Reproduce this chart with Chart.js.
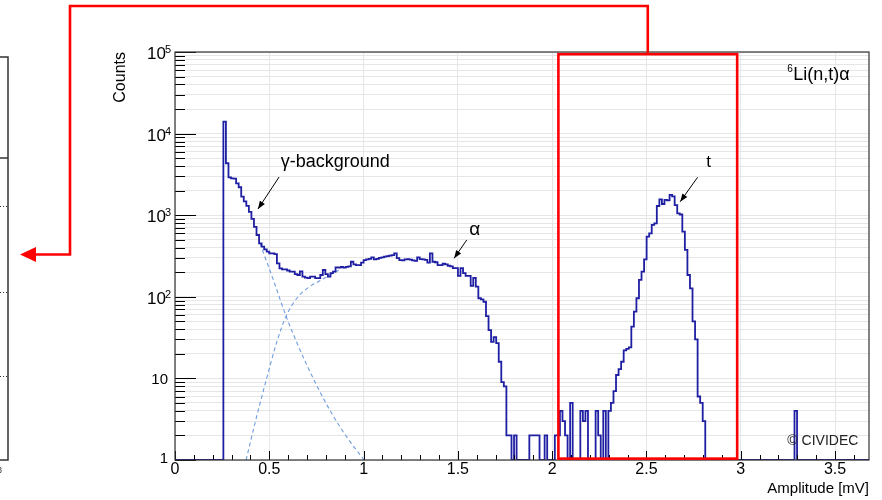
<!DOCTYPE html>
<html>
<head>
<meta charset="utf-8">
<script src="https://cdn.jsdelivr.net/npm/chart.js@4.4.1/dist/chart.umd.min.js"></script>
<style>
  body { margin: 0; background: #fff; }
  #wrap { width: 882px; height: 500px; }
</style>
</head>
<body>
<div id="wrap"><canvas id="spectrum" width="882" height="500"></canvas></div>
<script>
// 6Li(n,t)alpha pulse height spectrum, log counts vs amplitude
const FONT = "'Liberation Sans', Arial, Helvetica, sans-serif";

const binStart = 0.2565;   // mV, lower edge of the first filled bin
const binWidth = 0.01352;  // mV
const counts = [
  14000, 4330, 2910, 2830, 2800, 2460, 2200, 1690, 1480, 1300,
  1100, 900, 720, 572, 452, 411, 381, 357, 341, 341,
  334, 257, 223, 217, 217, 210, 203, 203, 190, 185,
  205, 177, 172, 169, 177, 177, 169, 169, 185, 213,
  190, 177, 195, 203, 230, 228, 232, 228, 233, 236,
  269, 250, 245, 245, 262, 282, 288, 292, 304, 288,
  292, 300, 304, 310, 316, 320, 325, 341, 297, 282,
  280, 288, 290, 286, 280, 276, 304, 290, 288, 284,
  262, 341, 269, 265, 245, 245, 254, 250, 240, 236,
  224, 224, 180, 224, 195, 180, 180, 136, 171, 133,
  96, 93, 87, 58, 39, 28, 32, 27, 16, 9,
  8, 2, 2, 0, 2, 0, 0, 0, 0, 0,
  2, 2, 2, 2, 0, 0, 2, 0, 0, 0,
  2, 2, 4, 3, 2, 0, 5, 0, 0, 0,
  4, 3, 4, 0, 0, 0, 4, 2, 0, 4,
  0, 4, 5, 7, 11, 13, 16, 22, 23, 24,
  43, 66, 96, 161, 203, 288, 546, 600, 759, 795,
  1297, 1563, 1372, 1540, 1520, 1770, 1700, 1330, 1054, 1020,
  628, 375, 185, 127, 50, 30, 6, 5, 3, 0,
  0, 0, 0, 0, 0, 0, 0, 0, 0, 0,
  0, 0, 0, 0, 0, 0, 0, 0, 0, 0,
  0, 0, 0, 0, 0, 0, 0, 0, 0, 0,
  0, 0, 0, 0, 4
];

// fitted components (dashed)
const gammaFitX = [0.451, 0.4605, 0.5215, 0.589, 0.663, 0.748, 0.833, 0.918, 1.003];
const gammaFitY = [453, 393, 161, 58, 22.3, 8.5, 3.66, 1.81, 1];
const alphaFitX = [0.377, 0.43, 0.486, 0.54, 0.589, 0.6525, 0.714, 0.776, 0.838, 0.882];
const alphaFitY = [1, 3.2, 10, 28, 58, 100, 133, 161, 194, 220];

const xTicks = [0, 0.5, 1, 1.5, 2, 2.5, 3, 3.5];
const yDecades = [1, 10, 100, 1000, 10000, 100000];
const xMax = 3.68;

// triton window marked in red
const windowLo = 2.033, windowHi = 2.981;

const notes = {
  labels: [
    { text: '\u03b3-background', x: 0.561, y: 3900, size: 18 },
    { text: '\u03b1', x: 1.56, y: 572, size: 19 },
    { text: 't', x: 2.817, y: 3930, size: 17 }
  ],
  arrows: [
    { from: [0.552, 2938], to: [0.440, 1191] },
    { from: [1.547, 497], to: [1.480, 296] },
    { from: [2.771, 2913], to: [2.679, 1465] }
  ]
};

const yGrid = [];
yDecades.forEach(d => {
  for (let m = 1; m <= 9; m++) if (d * m <= 100000) yGrid.push(d * m);
});

const histPoints = [{ x: 0, y: 1 }];
counts.forEach((c, i) => histPoints.push({ x: binStart + i * binWidth, y: Math.max(c, 1) }));
histPoints.push({ x: binStart + counts.length * binWidth, y: 1 });
histPoints.push({ x: xMax, y: 1 });

const gammaFit = gammaFitX.map((x, i) => ({ x, y: gammaFitY[i] }));
const alphaFit = alphaFitX.map((x, i) => ({ x, y: alphaFitY[i] }));

function line(ctx, x1, y1, x2, y2) {
  ctx.beginPath(); ctx.moveTo(x1, y1); ctx.lineTo(x2, y2); ctx.stroke();
}

function arrowHead(ctx, x1, y1, x2, y2, len, half) {
  const a = Math.atan2(y2 - y1, x2 - x1);
  ctx.beginPath();
  ctx.moveTo(x2, y2);
  ctx.lineTo(x2 - len * Math.cos(a) + half * Math.sin(a), y2 - len * Math.sin(a) - half * Math.cos(a));
  ctx.lineTo(x2 - len * Math.cos(a) - half * Math.sin(a), y2 - len * Math.sin(a) + half * Math.cos(a));
  ctx.closePath();
  ctx.fill();
}

// frame, inward ticks and power-of-ten labels
const rootAxes = {
  id: 'rootAxes',
  afterDatasetsDraw(chart) {
    const { ctx, chartArea: { left, right, top, bottom } } = chart;
    const xs = chart.scales.x, ys = chart.scales.y;
    ctx.save();
    ctx.strokeStyle = '#000';
    ctx.lineWidth = 1;
    yGrid.forEach(v => {
      const py = Math.round(ys.getPixelForValue(v)) + 0.5;
      line(ctx, left, py, left + (yDecades.includes(v) ? 21 : 10), py);
    });
    for (let i = 0; i <= 36; i++) {
      const v = i / 10;
      const px = Math.round(xs.getPixelForValue(v)) + 0.5;
      line(ctx, px, bottom, px, bottom - (i % 5 === 0 ? 9 : 5));
    }
    ctx.strokeStyle = '#333';
    ctx.lineWidth = 1.2;
    ctx.strokeRect(left, top, right - left, bottom - top);

    ctx.fillStyle = '#000';
    ctx.textAlign = 'right';
    ctx.textBaseline = 'alphabetic';
    yDecades.forEach(v => {
      const py = ys.getPixelForValue(v);
      const n = Math.round(Math.log10(v));
      if (n < 2) {
        ctx.font = `15px ${FONT}`;
        ctx.fillText(String(v), left - 7, Math.min(py + 6, bottom + 3));
      } else {
        ctx.font = `11px ${FONT}`;
        ctx.fillText(String(n), left - 4, py + 1);
        ctx.font = `17px ${FONT}`;
        ctx.fillText('10', left - 9, py + 7);
      }
    });
    ctx.restore();
  }
};

// text labels, arrows and the red selection window
const overlay = {
  id: 'overlay',
  afterDraw(chart) {
    const { ctx } = chart;
    const xs = chart.scales.x, ys = chart.scales.y;
    const px = v => xs.getPixelForValue(v), py = v => ys.getPixelForValue(v);
    ctx.save();

    ctx.fillStyle = '#000';
    ctx.textAlign = 'left';
    ctx.textBaseline = 'alphabetic';
    notes.labels.forEach(l => {
      ctx.font = `${l.size}px ${FONT}`;
      ctx.fillText(l.text, px(l.x), py(l.y));
    });

    ctx.strokeStyle = '#000';
    ctx.lineWidth = 1;
    notes.arrows.forEach(a => {
      const x1 = px(a.from[0]), y1 = py(a.from[1]), x2 = px(a.to[0]), y2 = py(a.to[1]);
      line(ctx, x1, y1, x2, y2);
      arrowHead(ctx, x1, y1, x2, y2, 8, 3);
    });

    // reaction label and copyright
    const rx = px(3.278), ry = py(45400);
    ctx.font = `10px ${FONT}`;
    ctx.fillText('6', rx - 6, ry - 8);
    ctx.font = `18px ${FONT}`;
    ctx.fillText('Li(n,t)\u03b1', rx, ry);
    ctx.fillStyle = '#222';
    ctx.font = `14px ${FONT}`;
    ctx.fillText('\u00a9 CIVIDEC', px(3.247), py(1.53));

    // neighbouring pad edge
    ctx.strokeStyle = '#333';
    ctx.lineWidth = 1.5;
    ctx.beginPath();
    ctx.moveTo(0, 57); ctx.lineTo(8, 57); ctx.lineTo(8, 460); ctx.lineTo(0, 460);
    ctx.stroke();
    line(ctx, 0, 158, 8, 158);
    ctx.lineWidth = 1;
    ctx.setLineDash([1, 2]);
    [206, 292, 376].forEach(y => line(ctx, 0, y + 0.5, 8, y + 0.5));
    ctx.setLineDash([]);
    ctx.fillStyle = '#333';
    ctx.font = `9px ${FONT}`;
    ctx.fillText('8', -3, 473);

    // selection window and link arrow
    const bx1 = px(windowLo), bx2 = px(windowHi);
    const by1 = py(94000), by2 = py(1.04);
    ctx.strokeStyle = '#f00';
    ctx.fillStyle = '#f00';
    ctx.lineWidth = 2.6;
    ctx.strokeRect(bx1, by1, bx2 - bx1, by2 - by1);
    const cx = (bx1 + bx2) / 2;
    ctx.beginPath();
    ctx.moveTo(cx, by1); ctx.lineTo(cx, 6); ctx.lineTo(70, 6); ctx.lineTo(70, 254.5); ctx.lineTo(34, 254.5);
    ctx.stroke();
    ctx.beginPath();
    ctx.moveTo(20, 254.5); ctx.lineTo(36, 247); ctx.lineTo(36, 262);
    ctx.closePath();
    ctx.fill();
    ctx.restore();
  }
};

Chart.defaults.font.family = FONT;

new Chart(document.getElementById('spectrum'), {
  type: 'line',
  data: {
    datasets: [
      { data: histPoints, stepped: true, borderColor: '#1f1fa3', borderWidth: 1.8, pointRadius: 0, fill: false },
      { data: gammaFit, borderColor: '#6f9ddf', borderWidth: 1.1, borderDash: [4, 3], pointRadius: 0, fill: false, cubicInterpolationMode: 'monotone' },
      { data: alphaFit, borderColor: '#6f9ddf', borderWidth: 1.1, borderDash: [4, 3], pointRadius: 0, fill: false, cubicInterpolationMode: 'monotone' }
    ]
  },
  options: {
    responsive: false,
    animation: false,
    devicePixelRatio: 1,
    layout: { padding: { left: 107, right: 13, top: 52, bottom: 0 } },
    plugins: { legend: { display: false }, tooltip: { enabled: false } },
    scales: {
      x: {
        type: 'linear', min: 0, max: xMax,
        afterBuildTicks: s => { s.ticks = xTicks.map(v => ({ value: v })); },
        afterFit: s => { s.height = 40; },
        grid: { color: '#e6e6e6', drawTicks: false },
        border: { display: false },
        ticks: { color: '#000', font: { size: 16 }, padding: 0, maxRotation: 0, callback: v => String(v) },
        title: { display: true, text: 'Amplitude [mV]', align: 'end', color: '#000', font: { size: 15 }, padding: { top: 0, bottom: 2 } }
      },
      y: {
        type: 'logarithmic', min: 1, max: 100000,
        afterBuildTicks: s => { s.ticks = yGrid.map(v => ({ value: v })); },
        afterFit: s => { s.width = 68; },
        grid: { color: '#e6e6e6', drawTicks: false },
        border: { display: false },
        ticks: { display: false },
        title: { display: true, text: 'Counts', align: 'end', color: '#000', font: { size: 16 } }
      }
    }
  },
  plugins: [rootAxes, overlay]
});
</script>
</body>
</html>
